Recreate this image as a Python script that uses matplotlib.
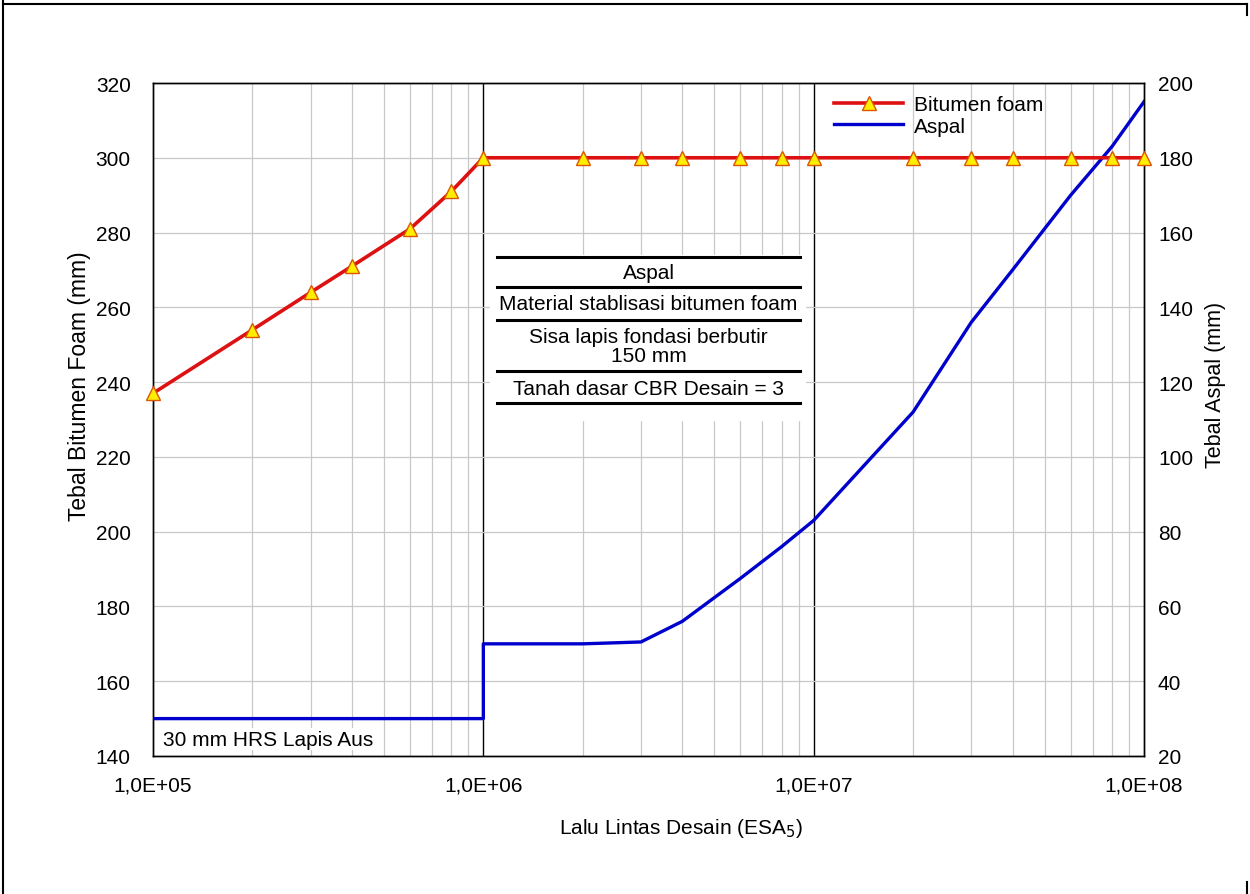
import matplotlib.pyplot as plt
from matplotlib.ticker import FixedLocator, FuncFormatter, NullFormatter
from matplotlib.lines import Line2D

plt.rcParams['font.family'] = ['Liberation Sans', 'DejaVu Sans']

# Data
foam_x = [1e5, 2e5, 3e5, 4e5, 6e5, 8e5, 1e6, 2e6, 3e6, 4e6, 6e6, 8e6,
          1e7, 2e7, 3e7, 4e7, 6e7, 8e7, 1e8]
foam_y = [237, 254, 264, 271, 281, 291, 300, 300, 300, 300, 300, 300,
          300, 300, 300, 300, 300, 300, 300]

aspal_x = [1e5, 1e6, 1e6, 2e6, 3e6, 4e6, 6e6, 8e6, 1e7, 2e7, 3e7, 4e7, 6e7, 8e7, 1e8]
aspal_y = [30, 30, 50, 50, 50.5, 56, 67.5, 76, 83, 112, 136, 150, 170, 183, 195]

layers = ['Aspal', 'Material stablisasi bitumen foam',
          'Sisa lapis fondasi berbutir\n150 mm', 'Tanah dasar CBR Desain = 3']

fig = plt.figure(figsize=(12.5, 8.95), dpi=100)
ax = fig.add_axes([153/1250, 1 - 757/895, (1144-153)/1250, (757-84)/895])
ax2 = ax.twinx()

ax.set_xscale('log')
ax.set_xlim(1e5, 1e8)
ax.set_ylim(140, 320)
ax2.set_ylim(20, 200)

ax.set_yticks(range(140, 321, 20))
ax2.set_yticks(range(20, 201, 20))
ax.xaxis.set_major_locator(FixedLocator([1e5, 1e6, 1e7, 1e8]))
ax.xaxis.set_major_formatter(FuncFormatter(lambda v, p: f'{v:.1E}'.replace('.', ',')))
minors = [m * 10**e for e in range(5, 8) for m in range(2, 10)]
ax.xaxis.set_minor_locator(FixedLocator(minors))
ax.xaxis.set_minor_formatter(NullFormatter())

ax.grid(True, which='minor', axis='x', color='#c8c8c8', lw=0.9)
ax.grid(True, which='major', axis='y', color='#c8c8c8', lw=0.9)
for xv in [1e6, 1e7]:
    ax.axvline(xv, color='black', lw=1.0, zorder=1.5)

for a in (ax, ax2):
    for s in a.spines.values():
        s.set_color('black')
        s.set_linewidth(1.0)
ax.tick_params(axis='y', which='both', length=0, labelsize=15, pad=16)
ax.tick_params(axis='x', which='both', length=0, labelsize=15, pad=14)
ax2.tick_params(axis='y', which='both', length=0, labelsize=15, pad=10)

ax.set_xlabel('Lalu Lintas Desain (ESA$_5$)', fontsize=15)
ax.xaxis.set_label_coords(0.533, -0.089)
ax.set_ylabel('Tebal Bitumen Foam (mm)', fontsize=16.5)
ax.yaxis.set_label_coords(-0.063, 0.551)
ax2.set_ylabel('Tebal Aspal (mm)', fontsize=15.5)
ax2.yaxis.set_label_coords(1.0615, 0.553)

# layer box
ax.fill_between([1.048e6, 9.42e6], 230, 274, color='white', zorder=2)
box_x0, box_x1 = 1.1e6, 9.1e6
for yv in [273.4, 265.4, 256.6, 242.9, 234.4]:
    ax.plot([box_x0, box_x1], [yv, yv], color='black', lw=2.2, zorder=3)
xc = (box_x0 * box_x1) ** 0.5
for yv, t in zip([269.4, 261.1, 249.6, 238.4], layers):
    ax.text(xc, yv, t, ha='center', va='center', fontsize=15, zorder=4,
            linespacing=1.0)

ax.text(1.07e5, 144.5, '30 mm HRS Lapis Aus', fontsize=15, ha='left', va='center',
        bbox=dict(facecolor='white', edgecolor='none', pad=1), zorder=4)

ax2.plot(aspal_x, aspal_y, color='#0000cc', lw=2.4, zorder=5)
ax2.plot(foam_x, [v - 120 for v in foam_y], color='#dd1111', lw=2.6,
         marker='^', markersize=10, markerfacecolor='#ffee00',
         markeredgecolor='#dd5500', markeredgewidth=1.0, zorder=6, clip_on=False)

handles = [Line2D([], [], color='#dd1111', lw=2.6, marker='^', markersize=10,
                  markerfacecolor='#ffee00', markeredgecolor='#dd5500'),
           Line2D([], [], color='#0000cc', lw=2.4)]
ax2.legend(handles, ['Bitumen foam', 'Aspal'], loc='upper left',
           bbox_to_anchor=(0.675, 1.0), frameon=False, fontsize=15,
           handlelength=3.3, handletextpad=0.5, labelspacing=0.1, borderaxespad=0.2)

# outer page border
fig.add_artist(Line2D([3/1250, 3/1250], [0, 1], transform=fig.transFigure, color='black', lw=1.5))
fig.add_artist(Line2D([3/1250, 1247/1250], [1 - 5/895, 1 - 5/895], transform=fig.transFigure, color='black', lw=1.5))
fig.add_artist(Line2D([1247/1250, 1247/1250], [1 - 16/895, 1 - 5/895], transform=fig.transFigure, color='black', lw=1.5))
fig.add_artist(Line2D([1247/1250, 1247/1250], [0, 1 - 883/895], transform=fig.transFigure, color='black', lw=1.5))

fig.savefig('out.png', dpi=100)
